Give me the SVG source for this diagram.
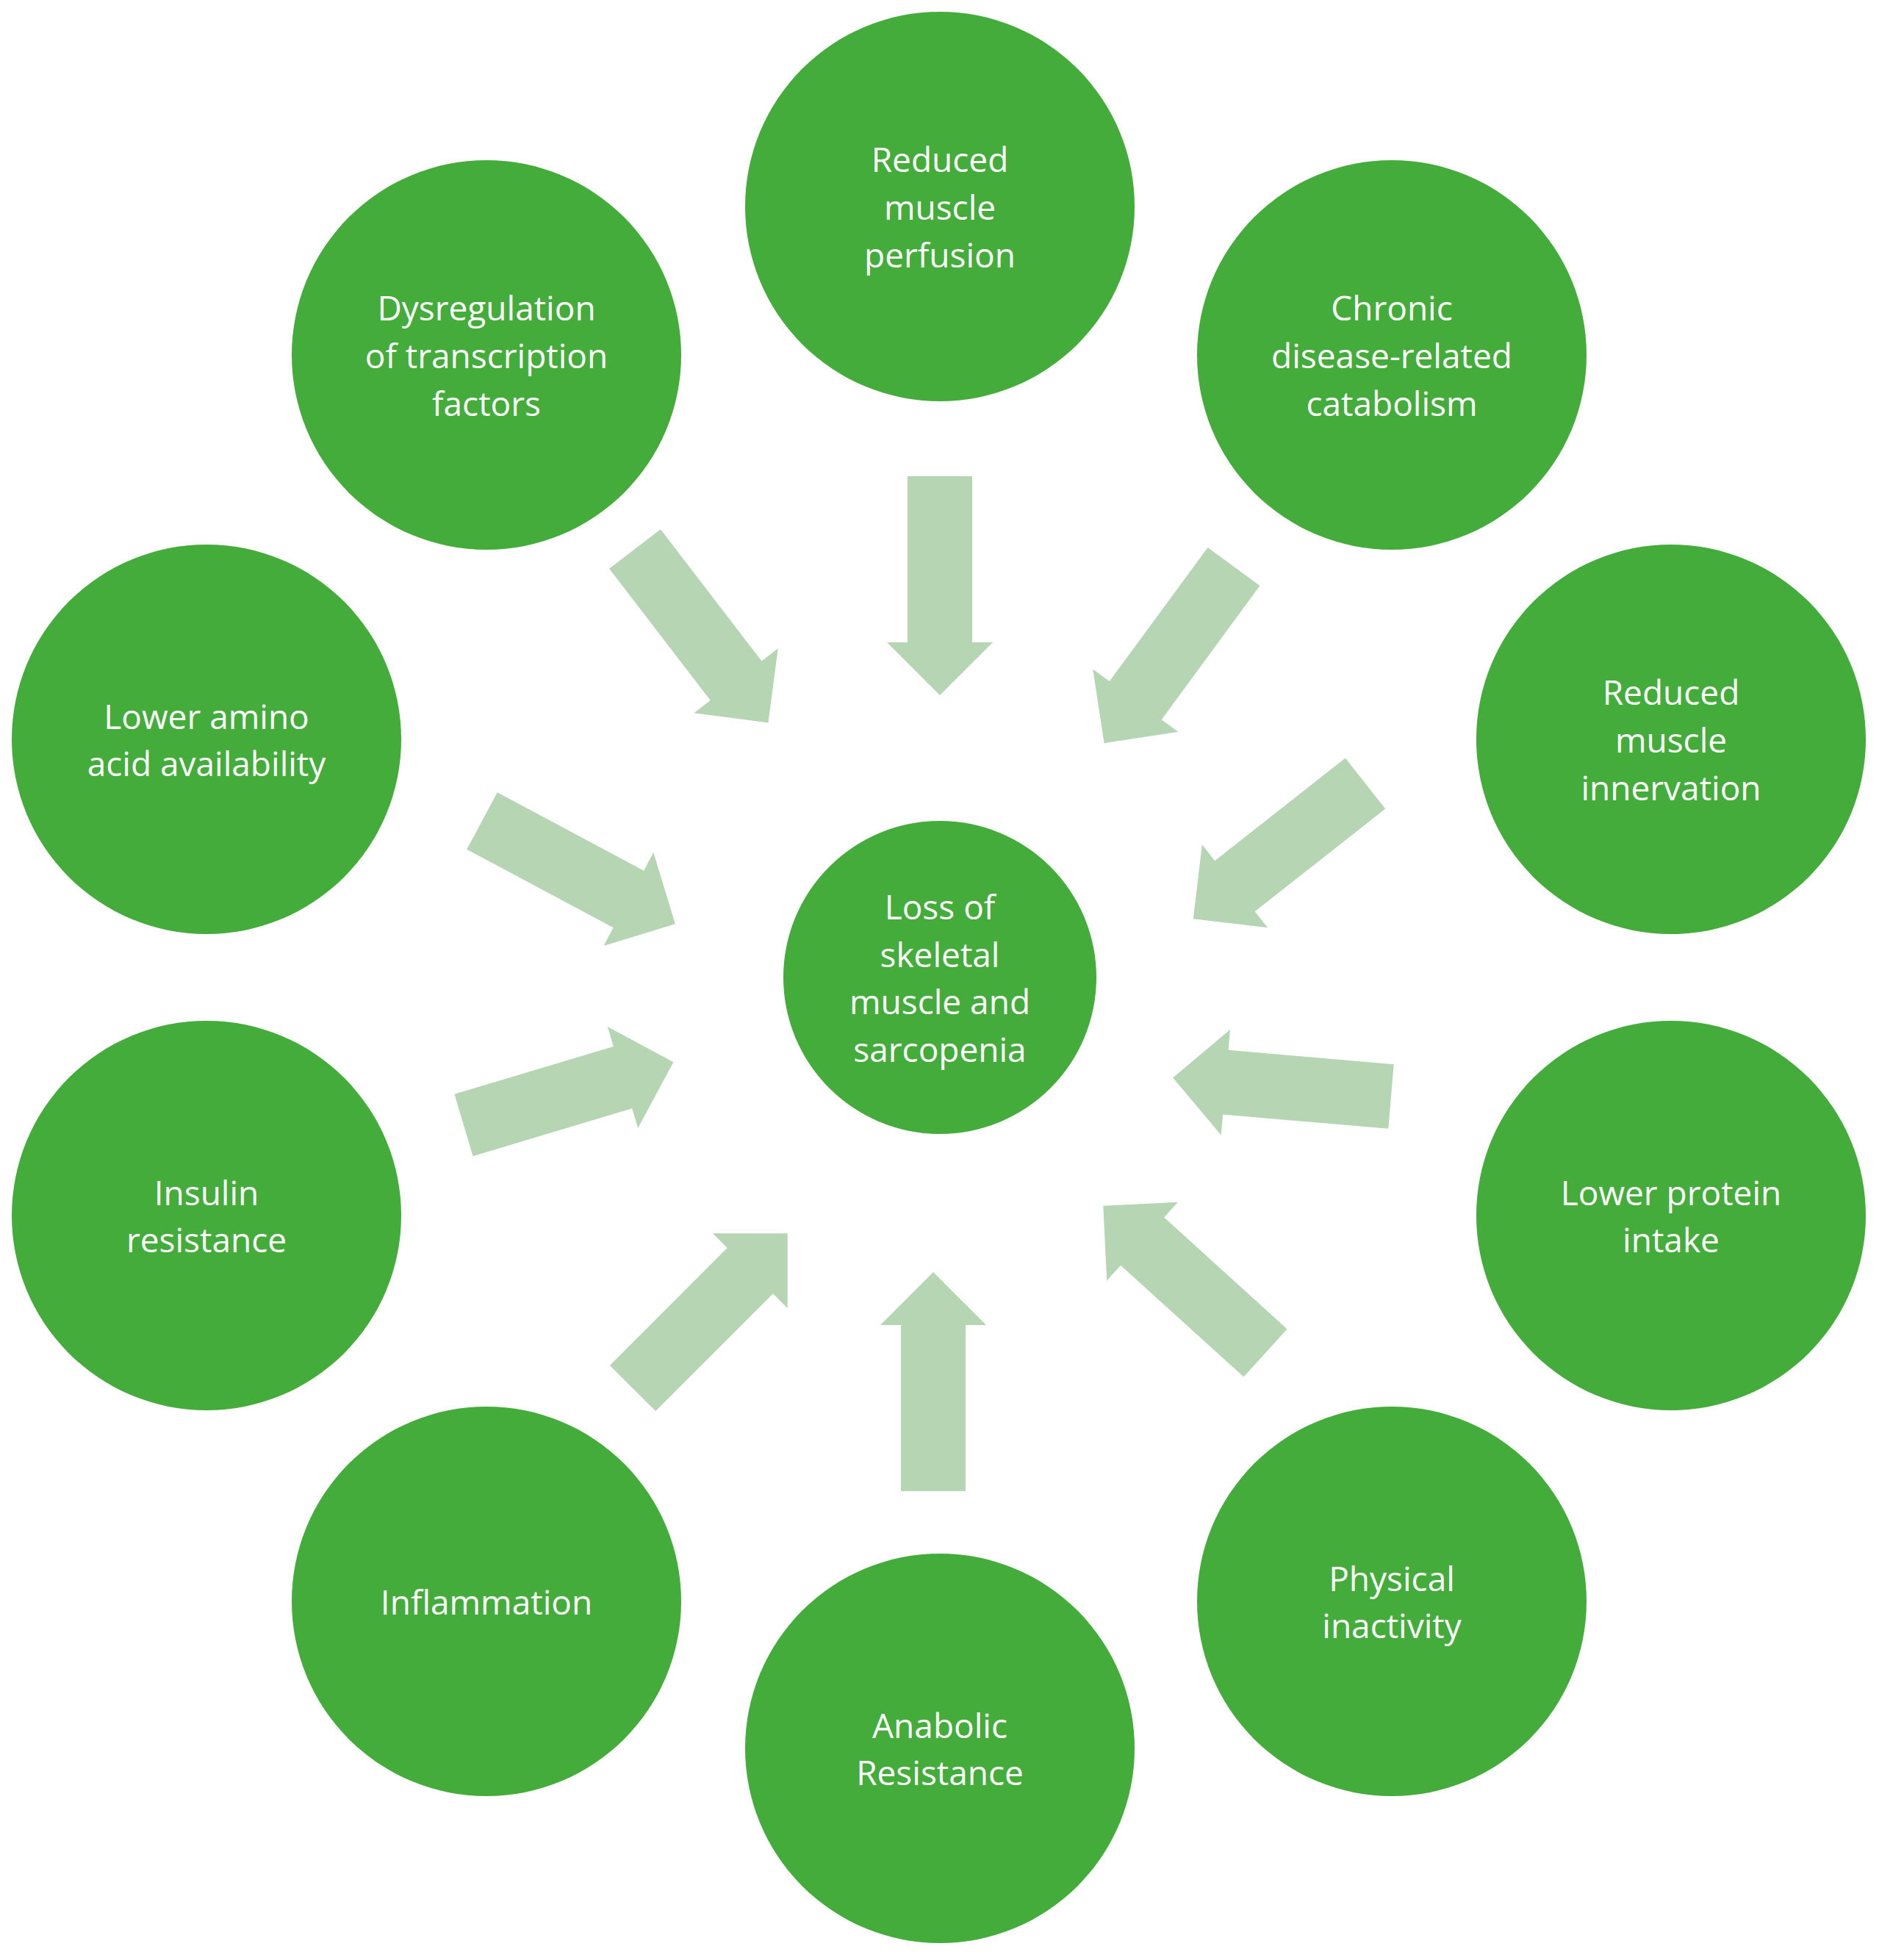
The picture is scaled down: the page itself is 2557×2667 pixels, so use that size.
<svg xmlns="http://www.w3.org/2000/svg" width="2557" height="2667" viewBox="0 0 2557 2667">
<defs>
<style>
.n{fill:#43ac3b}
.t{fill:#fff;font-family:"Open Sans","Liberation Sans",sans-serif;font-size:46px;text-anchor:middle;dominant-baseline:central}
.a{fill:#b5d5b3}
</style>
<path id="arr" d="M0,-44 L226,-44 L226,-72 L298,0 L226,72 L226,44 L0,44 Z"/>
</defs>
<rect width="2557" height="2667" fill="#fff"/>
<g id="connectors" class="a">
<use href="#arr" transform="translate(1279,648) rotate(90)"/>
<use href="#arr" transform="translate(864,747) rotate(52.5)"/>
<use href="#arr" transform="translate(1679,771) rotate(126.3)"/>
<use href="#arr" transform="translate(1858,1066) rotate(141.8)"/>
<use href="#arr" transform="translate(1893,1492) rotate(184.9)"/>
<use href="#arr" transform="translate(1722,1841) rotate(222.2)"/>
<use href="#arr" transform="translate(1270,2029) rotate(-90)"/>
<use href="#arr" transform="translate(861,1889) rotate(-45)"/>
<use href="#arr" transform="translate(631,1531) rotate(-16.7)"/>
<use href="#arr" transform="translate(656,1117) rotate(28.1)"/>
</g>
<g id="center"><circle class="n" cx="1279" cy="1330" r="213"/><text class="t" x="1279" y="1233">Loss of</text><text class="t" x="1279" y="1298">skeletal</text><text class="t" x="1279" y="1362">muscle and</text><text class="t" x="1279" y="1427">sarcopenia</text></g>
<g id="perfusion"><circle class="n" cx="1279" cy="281" r="265"/><text class="t" x="1279" y="216">Reduced</text><text class="t" x="1279" y="281">muscle</text><text class="t" x="1279" y="346">perfusion</text></g>
<g id="dysregulation"><circle class="n" cx="662" cy="483" r="265"/><text class="t" x="662" y="418">Dysregulation</text><text class="t" x="662" y="483">of transcription</text><text class="t" x="662" y="548">factors</text></g>
<g id="chronic"><circle class="n" cx="1894" cy="483" r="265"/><text class="t" x="1894" y="418">Chronic</text><text class="t" x="1894" y="483">disease-related</text><text class="t" x="1894" y="548">catabolism</text></g>
<g id="amino"><circle class="n" cx="281" cy="1006" r="265"/><text class="t" x="281" y="974">Lower amino</text><text class="t" x="281" y="1038">acid availability</text></g>
<g id="innervation"><circle class="n" cx="2274" cy="1006" r="265"/><text class="t" x="2274" y="941">Reduced</text><text class="t" x="2274" y="1006">muscle</text><text class="t" x="2274" y="1071">innervation</text></g>
<g id="insulin"><circle class="n" cx="281" cy="1654" r="265"/><text class="t" x="281" y="1622">Insulin</text><text class="t" x="281" y="1686">resistance</text></g>
<g id="protein"><circle class="n" cx="2274" cy="1654" r="265"/><text class="t" x="2274" y="1622">Lower protein</text><text class="t" x="2274" y="1686">intake</text></g>
<g id="inflammation"><circle class="n" cx="662" cy="2179" r="265"/><text class="t" x="662" y="2179">Inflammation</text></g>
<g id="physical"><circle class="n" cx="1894" cy="2179" r="265"/><text class="t" x="1894" y="2147">Physical</text><text class="t" x="1894" y="2211">inactivity</text></g>
<g id="anabolic"><circle class="n" cx="1279" cy="2379" r="265"/><text class="t" x="1279" y="2347">Anabolic</text><text class="t" x="1279" y="2411">Resistance</text></g>
</svg>
